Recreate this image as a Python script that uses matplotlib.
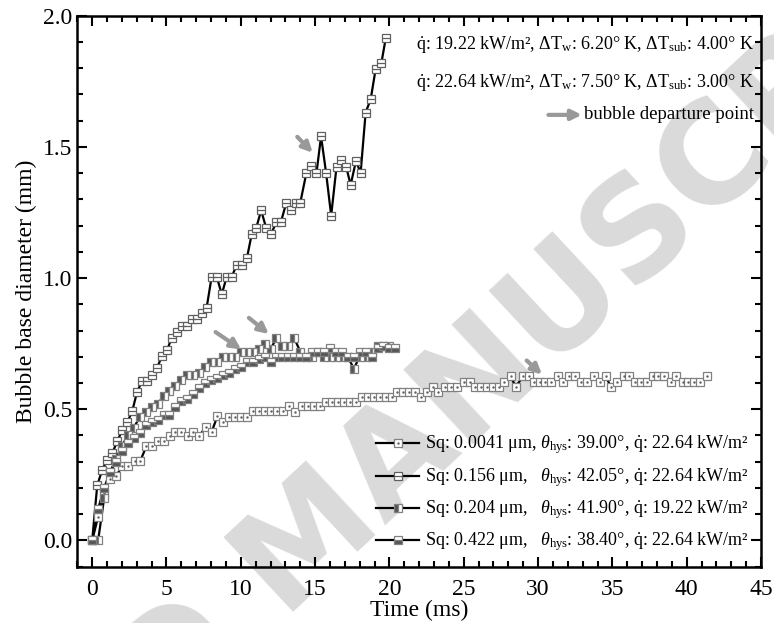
import matplotlib
matplotlib.use("Agg")
import matplotlib.pyplot as plt
from matplotlib.ticker import MultipleLocator
from matplotlib.lines import Line2D
from matplotlib.legend_handler import HandlerTuple

plt.rcParams['font.family'] = ['Liberation Serif', 'DejaVu Serif']
plt.rcParams['mathtext.fontset'] = 'custom'
plt.rcParams['mathtext.rm'] = 'Liberation Serif'
plt.rcParams['mathtext.it'] = 'Liberation Serif:italic'

# Sq 0.0041 um, 22.64 kW/m2
t1 = [0.0, 0.4, 0.8, 1.2, 1.62, 2.03, 2.41, 2.86, 3.24, 3.65, 4.03, 4.43, 4.84, 5.22, 5.6, 6.0,
      6.42, 6.8, 7.2, 7.63, 8.04, 8.42, 8.83, 9.2, 9.61, 10.0, 10.4, 10.85, 11.25, 11.65, 12.05,
      12.44, 12.83, 13.26, 13.67, 14.12, 14.52, 14.92, 15.32, 15.76, 16.16, 16.55, 16.95, 17.34,
      17.74, 18.17, 18.56, 18.96, 19.35, 19.75, 20.14, 20.54, 20.93, 21.33, 21.72, 22.1, 22.5,
      22.9, 23.3, 23.76, 24.16, 24.55, 25.0, 25.4, 25.76, 26.16, 26.55, 26.95, 27.34, 27.74,
      28.15, 28.5, 28.99, 29.38, 29.73, 30.1, 30.5, 30.9, 31.35, 31.7, 32.1, 32.5, 32.9, 33.3,
      33.77, 34.16, 34.55, 34.93, 35.33, 35.76, 36.1, 36.5, 36.9, 37.3, 37.74, 38.1, 38.5, 38.93,
      39.3, 39.72, 40.1, 40.5, 40.9, 41.35]
d1 = [0.0, 0.09, 0.18, 0.235, 0.247, 0.283, 0.283, 0.304, 0.304, 0.359, 0.359, 0.378, 0.378,
      0.397, 0.414, 0.414, 0.397, 0.414, 0.397, 0.433, 0.414, 0.473, 0.452, 0.471, 0.471, 0.471,
      0.471, 0.492, 0.492, 0.492, 0.492, 0.492, 0.492, 0.511, 0.49, 0.511, 0.511, 0.511, 0.511,
      0.529, 0.529, 0.529, 0.529, 0.529, 0.529, 0.548, 0.548, 0.548, 0.548, 0.548, 0.548, 0.567,
      0.567, 0.567, 0.567, 0.545, 0.567, 0.586, 0.567, 0.586, 0.586, 0.586, 0.605, 0.605, 0.583,
      0.583, 0.583, 0.583, 0.583, 0.605, 0.625, 0.586, 0.625, 0.625, 0.605, 0.605, 0.605, 0.605,
      0.625, 0.605, 0.625, 0.625, 0.605, 0.605, 0.625, 0.605, 0.625, 0.583, 0.605, 0.625, 0.625,
      0.605, 0.605, 0.605, 0.625, 0.625, 0.625, 0.605, 0.625, 0.605, 0.605, 0.605, 0.605, 0.625]

# Sq 0.156 um, 22.64 kW/m2
t2 = [0.0, 0.34, 0.68, 1.01, 1.35, 1.69, 2.03, 2.36, 2.7, 3.01, 3.35, 3.69, 4.03, 4.37, 4.7,
      5.04, 5.34, 5.68, 6.01, 6.35, 6.69, 7.03, 7.36, 7.7, 8.04, 8.38, 8.72, 9.05, 9.39, 9.73,
      10.07, 10.41, 10.74, 11.03, 11.37, 11.71, 12.05, 12.39, 12.7, 13.06, 13.4, 13.72, 14.0,
      14.41, 14.75, 15.09, 15.4, 15.74, 16.08, 16.44, 16.75, 17.09, 17.39, 17.75, 18.06, 18.4,
      18.74, 19.07, 19.46, 19.75]
d2 = [0.0, 0.21, 0.27, 0.307, 0.333, 0.378, 0.422, 0.45, 0.494, 0.564, 0.608, 0.608, 0.631,
      0.659, 0.703, 0.726, 0.77, 0.795, 0.817, 0.817, 0.843, 0.843, 0.868, 0.887, 1.005, 1.005,
      0.938, 1.005, 1.005, 1.051, 1.051, 1.076, 1.169, 1.19, 1.258, 1.19, 1.169, 1.214, 1.214,
      1.287, 1.258, 1.287, 1.287, 1.40, 1.426, 1.40, 1.54, 1.40, 1.238, 1.424, 1.449, 1.424,
      1.355, 1.447, 1.40, 1.631, 1.682, 1.796, 1.82, 1.914]

# Sq 0.204 um, 19.22 kW/m2
t3 = [0.4, 0.8, 1.2, 1.6, 2.0, 2.4, 2.8, 3.2, 3.6, 4.0, 4.4, 4.8, 5.2, 5.6, 6.0, 6.4, 6.8, 7.2,
      7.6, 8.0, 8.4, 8.8, 9.2, 9.6, 10.0, 10.4, 10.8, 11.2, 11.6, 12.0, 12.4, 12.8, 13.2, 13.6,
      14.0, 14.4, 14.8, 15.2, 15.6, 16.0, 16.4, 16.8, 17.2, 17.6, 18.0, 18.4, 18.8, 19.2, 19.6,
      20.0]
d3 = [0.0, 0.16, 0.26, 0.31, 0.36, 0.40, 0.43, 0.47, 0.49, 0.51, 0.52, 0.55, 0.57, 0.59, 0.61,
      0.63, 0.63, 0.64, 0.66, 0.68, 0.68, 0.70, 0.70, 0.70, 0.72, 0.72, 0.72, 0.73, 0.75, 0.73,
      0.77, 0.74, 0.74, 0.77, 0.72, 0.70, 0.70, 0.72, 0.70, 0.70, 0.70, 0.70, 0.70, 0.655, 0.70,
      0.70, 0.72, 0.74, 0.74, 0.74]

# Sq 0.422 um, 22.64 kW/m2
t4 = [0.0, 0.4, 0.8, 1.2, 1.6, 2.0, 2.4, 2.8, 3.2, 3.6, 4.0, 4.4, 4.8, 5.2, 5.6, 6.0, 6.4, 6.8,
      7.2, 7.6, 8.0, 8.4, 8.8, 9.2, 9.6, 10.0, 10.4, 10.8, 11.2, 11.6, 12.0, 12.4, 12.8, 13.2,
      13.6, 14.0, 14.4, 14.8, 15.2, 15.6, 16.0, 16.4, 16.8, 17.2, 17.6, 18.0, 18.4, 18.8, 19.2,
      19.6, 20.0, 20.4]
d4 = [0.0, 0.12, 0.20, 0.26, 0.30, 0.34, 0.37, 0.39, 0.41, 0.44, 0.45, 0.46, 0.48, 0.48, 0.51,
      0.53, 0.54, 0.56, 0.58, 0.60, 0.61, 0.62, 0.63, 0.64, 0.655, 0.66, 0.68, 0.68, 0.69, 0.70,
      0.68, 0.70, 0.70, 0.70, 0.70, 0.70, 0.70, 0.72, 0.72, 0.72, 0.735, 0.72, 0.72, 0.70, 0.70,
      0.72, 0.72, 0.70, 0.735, 0.74, 0.735, 0.735]

labels = [
    r'Sq: 0.0041 $\mathrm{\mu}$m, $\theta_{\mathrm{hys}}$: 39.00°, $\dot{\mathrm{q}}$: 22.64 kW/m²',
    r'Sq: 0.156 $\mathrm{\mu}$m,   $\theta_{\mathrm{hys}}$: 42.05°, $\dot{\mathrm{q}}$: 22.64 kW/m²',
    r'Sq: 0.204 $\mathrm{\mu}$m,   $\theta_{\mathrm{hys}}$: 41.90°, $\dot{\mathrm{q}}$: 19.22 kW/m²',
    r'Sq: 0.422 $\mathrm{\mu}$m,   $\theta_{\mathrm{hys}}$: 38.40°, $\dot{\mathrm{q}}$: 22.64 kW/m²',
]

# departure arrows: (tail_x, tail_y, head_x, head_y)
arrows = [(13.67, 1.546, 14.97, 1.47),
          (8.15, 0.80, 10.18, 0.722),
          (10.4, 0.855, 12.03, 0.78),
          (29.1, 0.693, 30.4, 0.625)]

fig = plt.figure(figsize=(7.74, 6.23), dpi=100)
ax = fig.add_axes([0.0999, 0.0904, 0.8833, 0.8844])

# watermark
ax.text(0.356, 0.06, 'ACCEPTED MANUSCRIPT', transform=ax.transAxes, fontsize=100,
        family='DejaVu Sans', weight='bold', color='#dadada', rotation=43,
        ha='center', va='center', rotation_mode='anchor', zorder=0, clip_on=False)

dark = '#555555'
edge = '#808080'
ms = 5.2
styles = [
    dict(mfc='white', mec=edge),
    dict(mfc='white', mec='#606060'),
    dict(mfc=dark, mec=edge, fillstyle='left', markerfacecoloralt='white'),
    dict(mfc=dark, mec=edge, fillstyle='bottom', markerfacecoloralt='white'),
]
series = [(t1, d1), (t2, d2), (t3, d3), (t4, d4)]

for t, d in series:
    ax.plot(t, d, '-', color='black', lw=1.6, zorder=2)

handles = []
for i, (t, d) in enumerate(series):
    ax.plot(t, d, 's', ms=ms, mew=0.9, zorder=3 + i * 0.1, **styles[i])
    h = [Line2D([], [], color='black', lw=1.6, marker='s', ms=ms, mew=0.9, **styles[i])]
    if i == 0:
        ax.plot(t, d, '.', ms=1.5, color='#606060', zorder=3.05)
        h.append(Line2D([], [], ls='none', marker='.', ms=1.5, color='#606060'))
    if i == 1:
        ax.plot(t, d, '_', ms=ms, mew=0.9, color='#606060', zorder=3.15)
        h.append(Line2D([], [], ls='none', marker='_', ms=ms, mew=0.9, color='#606060'))
    handles.append(tuple(h))

for x0, y0, x1, y1 in arrows:
    ax.annotate('', xy=(x1, y1), xytext=(x0, y0),
                arrowprops=dict(arrowstyle='-|>,head_length=0.6,head_width=0.3',
                                color='#999999', lw=3), zorder=4)

ax.set_xlim(-1, 45)
ax.set_ylim(-0.1, 2.0)
ax.xaxis.set_major_locator(MultipleLocator(5))
ax.xaxis.set_minor_locator(MultipleLocator(1))
ax.yaxis.set_major_locator(MultipleLocator(0.5))
ax.yaxis.set_minor_locator(MultipleLocator(0.1))
ax.yaxis.set_major_formatter(plt.FormatStrFormatter('%.1f'))
ax.tick_params(which='both', direction='in', top=True, right=True, width=1.5, labelsize=17)
ax.tick_params(which='major', length=7)
ax.tick_params(which='minor', length=4)
ax.tick_params(axis='x', pad=9)
for s in ax.spines.values():
    s.set_linewidth(1.8)

ax.set_xlabel('Time (ms)', fontsize=17, labelpad=0)
ax.set_ylabel('Bubble base diameter (mm)', fontsize=17, labelpad=4)

ax.text(0.99, 0.947,
        r'$\dot{\mathrm{q}}$: 19.22 kW/m², $\Delta$T$_{\mathrm{w}}$: 6.20° K, $\Delta$T$_{\mathrm{sub}}$: 4.00° K',
        transform=ax.transAxes, ha='right', va='center', fontsize=13)
ax.text(0.99, 0.878,
        r'$\dot{\mathrm{q}}$: 22.64 kW/m², $\Delta$T$_{\mathrm{w}}$: 7.50° K, $\Delta$T$_{\mathrm{sub}}$: 3.00° K',
        transform=ax.transAxes, ha='right', va='center', fontsize=13)
ax.text(0.99, 0.82, 'bubble departure point', transform=ax.transAxes,
        ha='right', va='center', fontsize=13.5)
ax.annotate('', xy=(0.742, 0.82), xytext=(0.685, 0.82), xycoords='axes fraction',
            arrowprops=dict(arrowstyle='-|>,head_length=0.6,head_width=0.3',
                            color='#999999', lw=3))

ax.legend(handles, labels, loc='lower right', frameon=False, fontsize=13,
          handlelength=2.4, handletextpad=0.3, labelspacing=0.5, borderaxespad=0.3,
          handler_map={tuple: HandlerTuple(ndivide=1, pad=0)})

fig.savefig('out.png', dpi=100)
